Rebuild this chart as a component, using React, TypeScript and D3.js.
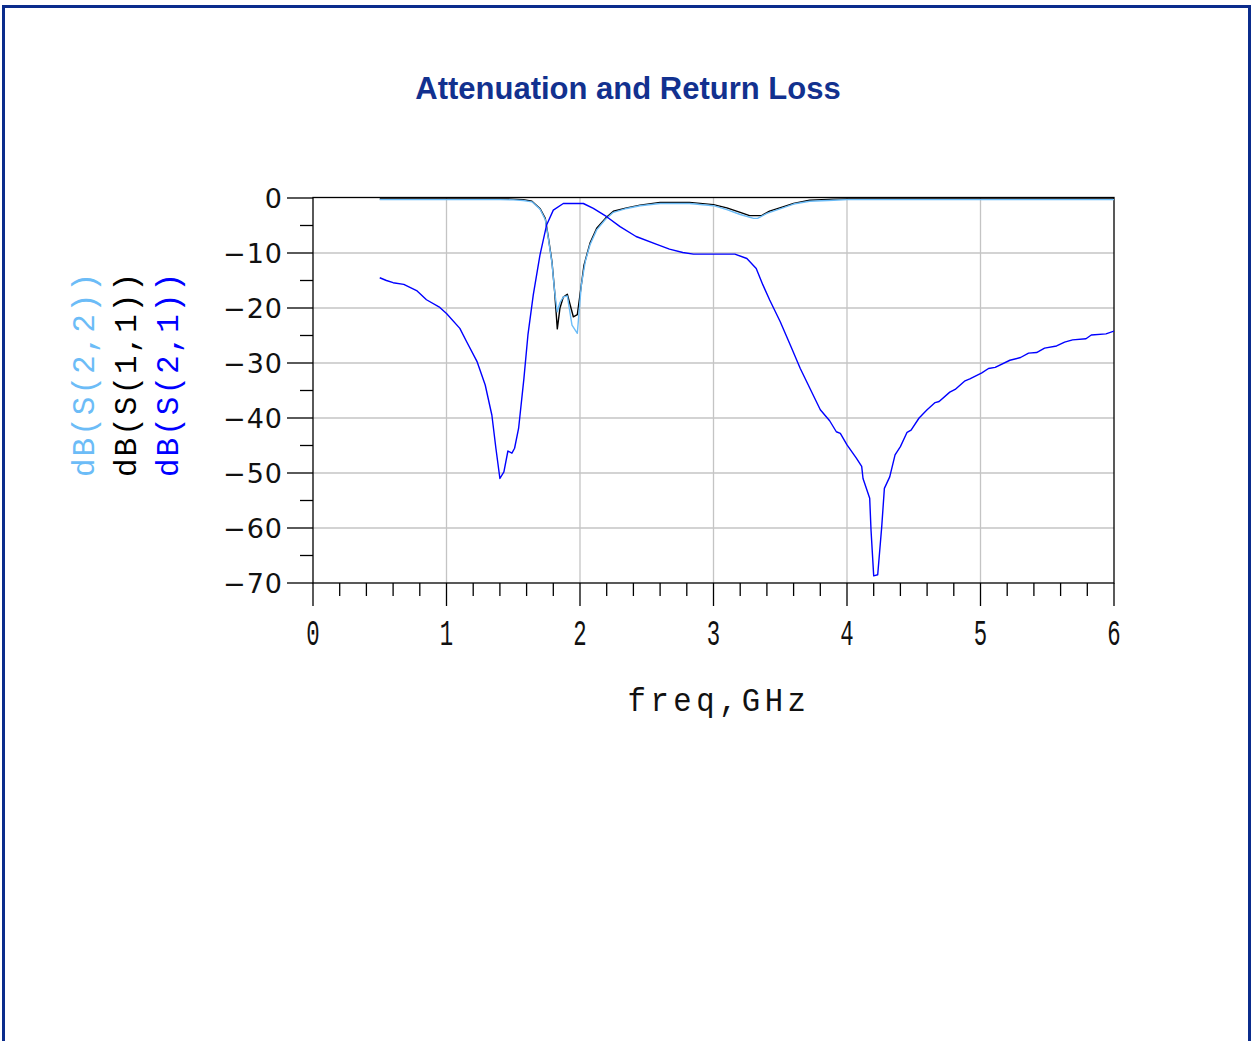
import React from "react";
import * as d3 from "d3";

const title = "Attenuation and Return Loss";
const xTicks = [0, 1, 2, 3, 4, 5, 6];
const yTicks = [0, -10, -20, -30, -40, -50, -60, -70];

const s21Freq = [0.5, 0.55, 0.6, 0.68, 0.78, 0.85, 0.95, 1.0, 1.1, 1.15, 1.23, 1.29, 1.34, 1.37, 1.4, 1.43, 1.46, 1.49, 1.51, 1.54, 1.58, 1.61, 1.65, 1.7, 1.75, 1.8, 1.875, 2.025, 2.1, 2.2, 2.3, 2.42, 2.57, 2.67, 2.77, 2.85, 3.0, 3.16, 3.25, 3.32, 3.37, 3.42, 3.5, 3.58, 3.65, 3.72, 3.8, 3.87, 3.92, 3.95, 4.0, 4.07, 4.11, 4.12, 4.17, 4.18, 4.2, 4.23, 4.26, 4.28, 4.32, 4.36, 4.4, 4.45, 4.48, 4.54, 4.6, 4.66, 4.69, 4.77, 4.81, 4.88, 4.92, 5.01, 5.06, 5.11, 5.22, 5.3, 5.36, 5.42, 5.48, 5.57, 5.63, 5.69, 5.79, 5.83, 5.94, 6.0];
const s21dB = [-14.5, -15.0, -15.4, -15.7, -16.9, -18.5, -19.9, -21.0, -23.7, -26.1, -29.8, -34.0, -39.5, -45.5, -51.0, -49.8, -46.0, -46.4, -45.5, -41.9, -32.8, -24.9, -17.6, -10.4, -4.9, -2.2, -1.0, -1.0, -1.9, -3.4, -5.2, -7.0, -8.4, -9.3, -9.9, -10.2, -10.2, -10.2, -11.0, -12.8, -15.8, -18.5, -22.5, -27.0, -31.0, -34.5, -38.5, -40.5, -42.5, -42.8, -44.9, -47.3, -48.8, -51.0, -54.6, -60.4, -68.7, -68.5, -59.8, -52.8, -50.7, -46.7, -45.2, -42.6, -42.2, -40.0, -38.5, -37.2, -37.0, -35.3, -34.8, -33.3, -32.9, -31.8, -31.0, -30.8, -29.5, -29.0, -28.2, -28.1, -27.3, -26.9, -26.2, -25.8, -25.6, -24.9, -24.7, -24.2];

const s11Freq = [0.5, 1.0, 1.4, 1.5, 1.575, 1.64, 1.7, 1.74, 1.76, 1.79, 1.81, 1.83, 1.85, 1.875, 1.905, 1.95, 1.98, 2.0, 2.03, 2.075, 2.125, 2.19, 2.25, 2.35, 2.45, 2.6, 2.82, 3.0, 3.1, 3.2, 3.27, 3.36, 3.42, 3.52, 3.6, 3.72, 3.9, 4.0, 6.0];
const s11dB = [-0.15, -0.15, -0.15, -0.2, -0.3, -0.6, -1.9, -3.7, -6.7, -11.6, -17.0, -23.8, -20.0, -18.0, -17.5, -21.6, -21.2, -17.6, -12.2, -8.2, -5.5, -3.7, -2.4, -1.8, -1.3, -0.8, -0.8, -1.2, -1.8, -2.6, -3.2, -3.2, -2.4, -1.6, -1.0, -0.4, -0.2, -0.15, -0.15];

const s22Freq = [0.5, 1.4, 1.5, 1.575, 1.64, 1.7, 1.74, 1.76, 1.79, 1.81, 1.83, 1.85, 1.875, 1.905, 1.94, 1.98, 2.01, 2.04, 2.075, 2.125, 2.19, 2.25, 2.35, 2.45, 2.6, 2.82, 3.0, 3.1, 3.2, 3.3, 3.33, 3.4, 3.52, 3.6, 3.72, 3.9, 4.0, 6.0];
const s22dB = [-0.3, -0.3, -0.35, -0.45, -0.7, -2.0, -3.9, -6.9, -11.8, -17.0, -20.7, -19.0, -18.0, -17.8, -23.1, -24.6, -15.8, -11.5, -8.5, -5.8, -3.9, -2.6, -1.9, -1.4, -1.0, -1.0, -1.4, -2.1, -3.0, -3.7, -3.7, -2.8, -1.8, -1.1, -0.6, -0.4, -0.3, -0.3];

const legendLabels = ["dB(S(2,2))", "dB(S(1,1))", "dB(S(2,1))"];
const seriesColors = ["#6cbcf7", "#000000", "#0000ff"];

const W = 1252;
const H = 1041;
const left = 313;
const right = 1114;
const top = 198;
const bottom = 583;

export default function App() {
  const x = d3.scaleLinear().domain([0, 6]).range([left, right]);
  const y = d3.scaleLinear().domain([0, -70]).range([top, bottom]);
  const line = d3
    .line<[number, number]>()
    .x((d) => x(d[0]))
    .y((d) => y(d[1]));

  // drawing order: S11 (black), S22 (light blue), S21 (blue)
  const series = [
    { f: s11Freq, v: s11dB, c: seriesColors[1] },
    { f: s22Freq, v: s22dB, c: seriesColors[0] },
    { f: s21Freq, v: s21dB, c: seriesColors[2] },
  ];

  const xMinor = d3.range(0, 6.0001, 0.2).filter((t) => Math.abs(t - Math.round(t)) > 1e-6);
  const yMinor = d3.range(-5, -70, -10);

  const axisColor = "#000";
  const gridColor = "#c4c4c4";

  return (
    <svg
      width={W}
      height={H}
      style={{ position: "absolute", left: 0, top: 0, background: "#fff" }}
    >
      <rect x={0} y={0} width={W} height={H} fill="#fff" />
      <path
        d={`M3.5,${H + 10} L3.5,6.5 L1249.5,6.5 L1249.5,${H + 10}`}
        fill="none"
        stroke="#0b2c8c"
        strokeWidth={3}
      />
      <text
        x={628}
        y={99}
        textAnchor="middle"
        fontFamily="'Liberation Sans', Arial, sans-serif"
        fontWeight="bold"
        fontSize={31}
        fill="#12318f"
      >
        {title}
      </text>

      {/* grid */}
      {xTicks.slice(1, -1).map((t) => (
        <line key={"gx" + t} x1={x(t)} x2={x(t)} y1={top} y2={bottom} stroke={gridColor} strokeWidth={1.3} />
      ))}
      {yTicks.slice(1, -1).map((t) => (
        <line key={"gy" + t} x1={left} x2={right} y1={y(t)} y2={y(t)} stroke={gridColor} strokeWidth={1.3} />
      ))}

      {/* ticks */}
      {yTicks.map((t) => (
        <line key={"yt" + t} x1={left - 26} x2={left} y1={y(t)} y2={y(t)} stroke={axisColor} strokeWidth={1.3} />
      ))}
      {yMinor.map((t) => (
        <line key={"ym" + t} x1={left - 13} x2={left} y1={y(t)} y2={y(t)} stroke={axisColor} strokeWidth={1.3} />
      ))}
      {xTicks.map((t) => (
        <line key={"xt" + t} x1={x(t)} x2={x(t)} y1={bottom} y2={bottom + 23} stroke={axisColor} strokeWidth={1.3} />
      ))}
      {xMinor.map((t) => (
        <line key={"xm" + t} x1={x(t)} x2={x(t)} y1={bottom} y2={bottom + 13} stroke={axisColor} strokeWidth={1.3} />
      ))}

      {/* y tick labels */}
      {yTicks.map((t) => (
        <text
          key={"yl" + t}
          x={283}
          y={y(t)}
          dy="0.36em"
          textAnchor="end"
          fontFamily="'DejaVu Sans', sans-serif"
          fontSize={27}
          letterSpacing={1}
          fill="#111"
        >
          {t === 0 ? "0" : "\u2212" + Math.abs(t)}
        </text>
      ))}

      {/* x tick labels */}
      {xTicks.map((t) => (
        <text
          key={"xl" + t}
          transform={`translate(${x(t)},645) scale(0.62,1)`}
          textAnchor="middle"
          fontFamily="'Liberation Mono', monospace"
          fontSize={36}
          fill="#111"
        >
          {t}
        </text>
      ))}

      <text
        transform={`translate(719,711) scale(0.9,1)`}
        textAnchor="middle"
        fontFamily="'Liberation Mono', monospace"
        fontSize={34}
        letterSpacing={5}
        fill="#111"
      >
        freq,GHz
      </text>

      {/* legend */}
      {legendLabels.map((lab, i) => (
        <text
          key={lab}
          transform={`translate(${94 + i * 42},477) rotate(-90)`}
          fontFamily="'Liberation Mono', monospace"
          fontSize={31}
          letterSpacing={2}
          fill={seriesColors[i]}
        >
          {lab}
        </text>
      ))}

      <defs>
        <clipPath id="plotclip">
          <rect x={left} y={top - 1} width={right - left} height={bottom - top + 2} />
        </clipPath>
      </defs>

      {/* frame */}
      <rect x={left} y={top - 0.5} width={right - left} height={bottom - top + 0.5} fill="none" stroke={axisColor} strokeWidth={1.3} />

      <g clipPath="url(#plotclip)">
        {series.map((s, i) => (
          <path
            key={i}
            d={line(s.f.map((f, j) => [f, s.v[j]] as [number, number])) || ""}
            fill="none"
            stroke={s.c}
            strokeWidth={1.4}
            strokeLinejoin="round"
          />
        ))}
      </g>
    </svg>
  );
}
